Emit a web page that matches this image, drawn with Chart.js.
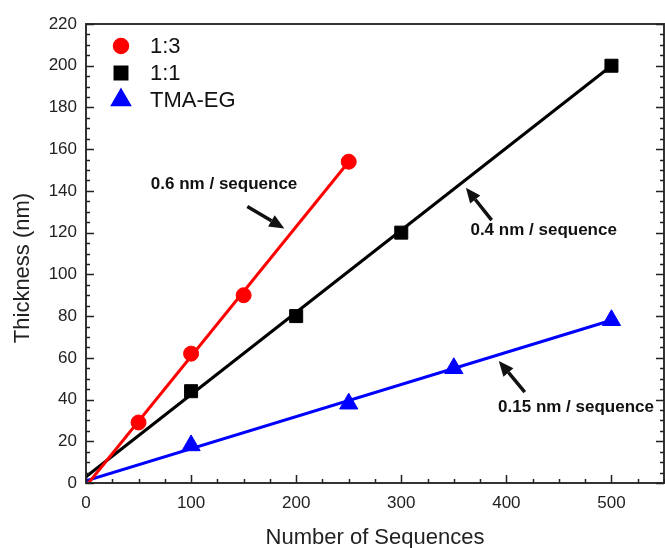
<!DOCTYPE html>
<html>
<head>
<meta charset="utf-8">
<script src="https://cdn.jsdelivr.net/npm/chart.js@4/dist/chart.umd.min.js"></script>
<style>
  html, body { margin: 0; padding: 0; background: #fff; }
  #wrap { width: 665px; height: 548px; }
</style>
</head>
<body>
<div id="wrap"><canvas id="thickChart"></canvas></div>
<script>
// measured points
const seq_13 = [50, 100, 150, 250];
const thick_13 = [29, 62, 90, 154];
const seq_11 = [100, 200, 300, 500];
const thick_11 = [44, 80, 120, 200];
const seq_tma = [100, 250, 350, 500];
const thick_tma = [18, 38, 55, 78];

// linear fit end points
const fit_13 = [[0, -1.5], [250, 154]];
const fit_11 = [[0, 3], [500, 200]];
const fit_tma = [[0, 1], [500, 78]];

const seriesNames = ['1:3', '1:1', 'TMA-EG'];
const seriesColors = ['#ff0000', '#000000', '#0000ff'];
const seriesShapes = ['circle', 'rect', 'triangle'];

const xTicks = [0, 100, 200, 300, 400, 500];
const yTicks = [0, 20, 40, 60, 80, 100, 120, 140, 160, 180, 200, 220];

const xTitle = 'Number of Sequences';
const yTitle = 'Thickness (nm)';

// slope labels: text, label position, arrow tail, arrow head (data units)
const notes = [
    { text: '0.6 nm / sequence', at: [131.4, 143], from: [153.5, 132.5], to: [188.7, 122] },
    { text: '0.4 nm / sequence', at: [435.5, 121.3], from: [386, 126], to: [361.5, 141.5] },
    { text: '0.15 nm / sequence', at: [466.3, 36.5], from: [417.5, 43.6], to: [392.8, 58.5] }
];

function pts(xs, ys) {
    return xs.map((x, i) => ({ x: x, y: ys[i] }));
}
function fitPts(arr) {
    return arr.map(p => ({ x: p[0], y: p[1] }));
}

const FONT = '"Liberation Sans", Arial, sans-serif';

const framePlugin = {
    id: 'frame',
    afterDraw(chart) {
        const ctx = chart.ctx;
        const a = chart.chartArea;
        const xs = chart.scales.x, ys = chart.scales.y;
        ctx.save();
        ctx.strokeStyle = '#333';
        ctx.lineWidth = 2;
        ctx.strokeRect(a.left, a.top, a.right - a.left, a.bottom - a.top);

        ctx.lineWidth = 1.5;
        ctx.strokeStyle = '#222';
        ctx.beginPath();
        // x ticks on bottom, inward
        for (let v = 0; v <= 550; v += 25) {
            const px = Math.round(xs.getPixelForValue(v)) + 0.5;
            const len = v % 100 === 0 ? 8 : 4;
            ctx.moveTo(px, a.bottom);
            ctx.lineTo(px, a.bottom - len);
        }
        // y ticks left and right, inward
        for (let v = 0; v <= 220; v += 5) {
            const py = Math.round(ys.getPixelForValue(v)) + 0.5;
            const len = v % 20 === 0 ? 8 : 4;
            ctx.moveTo(a.left, py);
            ctx.lineTo(a.left + len, py);
            ctx.moveTo(a.right, py);
            ctx.lineTo(a.right - len, py);
        }
        ctx.stroke();

        // axis titles
        ctx.fillStyle = '#222';
        ctx.font = '22px ' + FONT;
        ctx.textAlign = 'center';
        ctx.textBaseline = 'middle';
        ctx.fillText(xTitle, (a.left + a.right) / 2, 538);
        ctx.save();
        ctx.translate(23, 268);
        ctx.rotate(-Math.PI / 2);
        ctx.fillText(yTitle, 0, 0);
        ctx.restore();

        // legend
        ctx.font = '22px ' + FONT;
        ctx.textBaseline = 'middle';
        ctx.textAlign = 'left';
        const legR = [7.5, 9.5, 11];
        seriesNames.forEach((name, i) => {
            const cx = a.left + 35, cy = a.top + 22 + i * 27;
            ctx.fillStyle = seriesColors[i];
            ctx.strokeStyle = seriesColors[i];
            Chart.helpers.drawPoint(ctx, { pointStyle: seriesShapes[i], radius: legR[i], borderWidth: 1, rotation: 0 }, cx, cy);
            ctx.fillStyle = '#111';
            ctx.fillText(name, a.left + 64, cy + 1);
        });

        // slope notes with arrows
        ctx.font = 'bold 17px ' + FONT;
        ctx.textAlign = 'center';
        ctx.fillStyle = '#111';
        notes.forEach(n => {
            ctx.fillText(n.text, xs.getPixelForValue(n.at[0]), ys.getPixelForValue(n.at[1]));
            const x1 = xs.getPixelForValue(n.from[0]), y1 = ys.getPixelForValue(n.from[1]);
            const x2 = xs.getPixelForValue(n.to[0]), y2 = ys.getPixelForValue(n.to[1]);
            const ang = Math.atan2(y2 - y1, x2 - x1);
            const hl = 15, hw = 6.5;
            const bx = x2 - hl * Math.cos(ang), by = y2 - hl * Math.sin(ang);
            ctx.strokeStyle = '#111';
            ctx.lineWidth = 3.5;
            ctx.beginPath();
            ctx.moveTo(x1, y1);
            ctx.lineTo(bx, by);
            ctx.stroke();
            ctx.beginPath();
            ctx.moveTo(x2, y2);
            ctx.lineTo(bx + hw * Math.sin(ang), by - hw * Math.cos(ang));
            ctx.lineTo(bx - hw * Math.sin(ang), by + hw * Math.cos(ang));
            ctx.closePath();
            ctx.fill();
        });
        ctx.restore();
    }
};

const ctx = document.getElementById('thickChart').getContext('2d');
new Chart(ctx, {
    type: 'scatter',
    data: {
        datasets: [
            { label: 'fit13', data: fitPts(fit_13), showLine: true, borderColor: seriesColors[0], borderWidth: 3, pointRadius: 0, order: 5 },
            { label: 'fit11', data: fitPts(fit_11), showLine: true, borderColor: seriesColors[1], borderWidth: 3, pointRadius: 0, order: 5 },
            { label: 'fittma', data: fitPts(fit_tma), showLine: true, borderColor: seriesColors[2], borderWidth: 3, pointRadius: 0, order: 5 },
            { label: seriesNames[0], data: pts(seq_13, thick_13), pointStyle: 'circle', pointRadius: 7.5, backgroundColor: seriesColors[0], borderColor: seriesColors[0], order: 1 },
            { label: seriesNames[1], data: pts(seq_11, thick_11), pointStyle: 'rect', pointRadius: 9.2, backgroundColor: seriesColors[1], borderColor: seriesColors[1], order: 1 },
            { label: seriesNames[2], data: pts(seq_tma, thick_tma), pointStyle: 'triangle', pointRadius: 10.5, backgroundColor: seriesColors[2], borderColor: seriesColors[2], order: 1 }
        ]
    },
    options: {
        responsive: true,
        maintainAspectRatio: false,
        animation: false,
        layout: { autoPadding: false, padding: { top: 24, right: 1, left: 0, bottom: 0 } },
        plugins: {
            legend: { display: false },
            tooltip: { enabled: false }
        },
        scales: {
            x: {
                type: 'linear',
                min: 0,
                max: 550,
                ticks: {
                    stepSize: 100,
                    color: '#222',
                    font: { family: FONT, size: 17 },
                    padding: 10,
                    maxRotation: 0,
                    callback: v => xTicks.includes(v) ? String(v) : ''
                },
                afterFit: s => { s.height = 65; s.paddingLeft = 0; s.paddingRight = 0; },
                grid: { display: false, drawTicks: false },
                border: { display: false },
                title: { display: false }
            },
            y: {
                min: 0,
                max: 220,
                ticks: {
                    stepSize: 20,
                    color: '#222',
                    font: { family: FONT, size: 17 },
                    padding: 9,
                    callback: v => yTicks.includes(v) ? String(v) : ''
                },
                afterFit: s => { s.width = 86; s.paddingTop = 0; s.paddingBottom = 0; },
                grid: { display: false, drawTicks: false },
                border: { display: false },
                title: { display: false }
            }
        }
    },
    plugins: [framePlugin]
});
</script>
</body>
</html>
